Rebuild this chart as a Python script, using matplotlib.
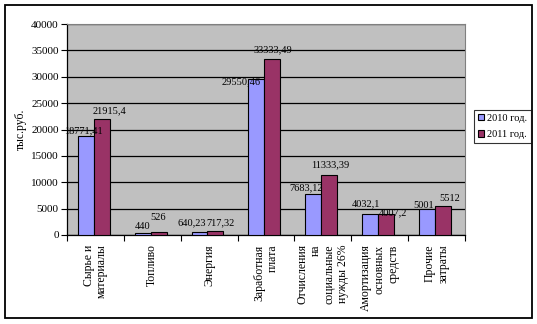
import numpy as np
import matplotlib.pyplot as plt
from matplotlib.patches import Rectangle

plt.rcParams['font.family'] = ['Liberation Serif', 'DejaVu Serif']

categories = ['Сырье и\nматериалы', 'Топливо', 'Энергия', 'Заработная\nплата',
              'Отчисления\nна\nсоциальные\nнужды 26%',
              'Амортизация\nосновных\nсредств', 'Прочие\nзатраты']
values_2010 = [18771.41, 440, 640.23, 29550.46, 7683.12, 4032.1, 5001]
values_2011 = [21915.4, 526, 717.32, 33333.49, 11333.39, 4007.2, 5512]
labels_2010 = ['18771,41', '440', '640,23', '29550,46', '7683,12', '4032,1', '5001']
labels_2011 = ['21915,4', '526', '717,32', '33333,49', '11333,39', '4007,2', '5512']
series_names = ['2010 год.', '2011 год.']

# value label placement (dx, dy in pixels from bar top centre), shifted so they don't collide
label_offsets = [
    [(-2, 3), (0, 4), (-8, 6), (-15, -5), (-7, 4), (-4, 7), (-3, 1)],
    [(8, 6), (0, 12), (5, 6), (1, 7), (1, 8), (7, -1), (7, 5)],
]

fig = plt.figure(figsize=(5.37, 3.24), dpi=100)
fig.patch.set_facecolor('white')
fig.patches.append(Rectangle((4.5 / 537, 1 - 318 / 324), 527 / 537, 313 / 324,
                             transform=fig.transFigure, fill=False,
                             edgecolor='black', linewidth=1.3))

ax = fig.add_axes([67 / 537, 1 - 235 / 324, 398 / 537, 211 / 324])
ax.set_facecolor('#C0C0C0')

x = np.arange(len(categories))
w = 0.28
b1 = ax.bar(x - w / 2 - 0.03, values_2010, w, color='#9999FF', edgecolor='black',
            linewidth=0.8, label=series_names[0], zorder=3)
b2 = ax.bar(x + w / 2 - 0.03, values_2011, w, color='#993366', edgecolor='black',
            linewidth=0.8, label=series_names[1], zorder=3)

px = 72 / fig.dpi
for s, (bars, labels) in enumerate([(b1, labels_2010), (b2, labels_2011)]):
    for i, (bar, txt) in enumerate(zip(bars, labels)):
        dx, dy = label_offsets[s][i]
        ax.annotate(txt, (bar.get_x() + bar.get_width() / 2, bar.get_height()),
                    xytext=(dx * px, dy * px), textcoords='offset points',
                    ha='center', va='baseline', fontsize=7.5, zorder=4)

ax.set_xlim(-0.5, len(categories) - 0.5)
ax.set_ylim(0, 40000)
ax.set_yticks(np.arange(0, 40001, 5000))
ax.tick_params(axis='y', labelsize=8, length=4, width=0.8, pad=2)
ax.yaxis.grid(True, color='black', linewidth=0.9, zorder=1)

ax.set_xticks(np.arange(-0.5, len(categories), 1))
ax.set_xticklabels([])
ax.tick_params(axis='x', length=4, width=0.8)
for xi, cat in zip(x, categories):
    ax.text(xi, -0.045, cat, transform=ax.get_xaxis_transform(), rotation=90,
            ha='center', va='top', multialignment='right', fontsize=8.5,
            linespacing=1.15)

for side in ['top', 'right']:
    ax.spines[side].set_color('#808080')
for side in ['left', 'bottom']:
    ax.spines[side].set_color('black')
    ax.spines[side].set_linewidth(0.9)

ax.set_ylabel('тыс.руб.', fontsize=8.5)
ax.yaxis.set_label_coords(-0.1, 0.5)

leg = fig.legend(handles=[b1, b2], loc='upper left',
                 bbox_to_anchor=(474 / 537, 1 - 110 / 324), fontsize=7.5,
                 frameon=True, fancybox=False, edgecolor='black',
                 handlelength=0.6, handleheight=0.6, handletextpad=0.3,
                 borderpad=0.35, labelspacing=0.75, borderaxespad=0)
leg.get_frame().set_linewidth(0.8)

fig.savefig('out.png', dpi=100)
